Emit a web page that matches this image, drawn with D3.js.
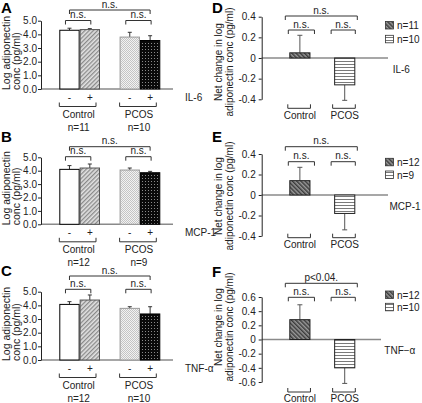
<!DOCTYPE html>
<html><head><meta charset="utf-8">
<script src="https://cdn.jsdelivr.net/npm/d3@7"></script>
<style>
body{margin:0;background:#fff}
svg{display:block;font-family:Arial,"Liberation Sans",Helvetica,sans-serif}
</style>
</head><body>
<svg id="chart" width="422" height="403"></svg>
<script>
// ---------------- DATA ----------------
const groups = ["Control", "PCOS"];
const treatments = ["-", "+"];
const cytokines = ["IL-6", "MCP-1", "TNF-α"];
const ticksABC = [0, 1, 2, 3, 4, 5];
// order: Control -, Control +, PCOS -, PCOS +
const meansA = [4.30, 4.35, 3.80, 3.55];
const errsA  = [0.15, 0.07, 0.35, 0.35];
const meansB = [4.10, 4.20, 4.05, 3.85];
const errsB  = [0.28, 0.30, 0.15, 0.10];
const meansC = [4.07, 4.39, 3.78, 3.37];
const errsC  = [0.20, 0.37, 0.12, 0.53];
const nA = ["n=11", "n=10"];
const nB = ["n=12", "n=9"];
const nC = ["n=12", "n=10"];
// net change: Control, PCOS
const netD = [0.05, -0.26];
const netErrD = [0.17, 0.15];
const netE = [0.14, -0.18];
const netErrE = [0.13, 0.16];
const netF = [0.28, -0.40];
const netErrF = [0.21, 0.22];
const legendD = ["n=11", "n=10"];
const legendE = ["n=12", "n=9"];
const legendF = ["n=12", "n=10"];
const ticksDE = [-0.4, -0.2, 0, 0.2, 0.4];
const ticksF = [-0.6, -0.4, -0.2, 0, 0.2, 0.4, 0.6];
const sigNS = ["n.s.", "n.s.", "n.s."];   // top, inner Control, inner PCOS
const sigF = ["p<0.04.", "n.s.", "n.s."];
const yLabelABC = ["Log adiponectin", "conc (pg/ml)"];
const yLabelDEF = ["Net change in log", "adiponectin conc (pg/ml)"];

// ---------------- SETUP ----------------
const svg = d3.select("#chart");
const defs = svg.append("defs");

function pat(id, w, h, bg, draw, transform) {
  const p = defs.append("pattern").attr("id", id).attr("patternUnits", "userSpaceOnUse")
    .attr("width", w).attr("height", h);
  if (transform) p.attr("patternTransform", transform);
  p.append("rect").attr("width", w).attr("height", h).attr("fill", bg);
  draw(p);
}
pat("hatch", 3, 3, "#e2e2e2", p => p.append("rect").attr("x", 0).attr("y", 0).attr("width", 1.3).attr("height", 3).attr("fill", "#8a8a8a"), "rotate(45)");
pat("check", 2, 2, "#f2f2f2", p => {
  p.append("rect").attr("width", 1).attr("height", 1).attr("fill", "#c4c4c4");
  p.append("rect").attr("x", 1).attr("y", 1).attr("width", 1).attr("height", 1).attr("fill", "#c4c4c4");
});
pat("dots", 3, 3, "#0a0a0a", p => p.append("rect").attr("x", 1).attr("y", 1).attr("width", 1).attr("height", 1).attr("fill", "#8a8a8a"));
pat("cross", 3, 3, "#9a9a9a", p => p.append("rect").attr("width", 1.5).attr("height", 3).attr("fill", "#3c3c3c"), "rotate(-45)");
pat("stripes", 4, 3, "#ffffff", p => p.append("rect").attr("y", 1).attr("width", 4).attr("height", 1).attr("fill", "#7a7a7a"));

const fillsABC = ["#ffffff", "url(#hatch)", "url(#check)", "url(#dots)"];
const strokesABC = ["#000", "#555", "#9a9a9a", "#000"];
const fillsDEF = ["url(#cross)", "url(#stripes)"];

function topBracket(g, x1, x2, y, drop, label) {
  g.append("path").attr("d", `M${x1},${y + drop}V${y}H${x2}V${y + drop}`)
    .attr("fill", "none").attr("stroke", "#333").attr("stroke-width", 1);
  g.append("text").attr("x", (x1 + x2) / 2).attr("y", y - 2.5).attr("text-anchor", "middle")
    .attr("font-size", 10).attr("fill", "#222").text(label);
}
function bottomBracket(g, x1, x2, y, rise) {
  g.append("path").attr("d", `M${x1},${y - rise}V${y}H${x2}V${y - rise}`)
    .attr("fill", "none").attr("stroke", "#333").attr("stroke-width", 1);
}
function letter(x, y, t) {
  svg.append("text").attr("x", x).attr("y", y).attr("font-size", 15).attr("font-weight", "bold").text(t);
}

// ---------------- PANELS A-C ----------------
const layoutABC = [
  { L: "A", ly: 12.5, y0: 89, y5: 20.7, topBr: 10, innerBr: 20.5, means: meansA, errs: errsA, n: nA, cyto: cytokines[0] },
  { L: "B", ly: 141.5, y0: 224.3, y5: 157.3, topBr: 146.7, innerBr: 156.7, means: meansB, errs: errsB, n: nB, cyto: cytokines[1] },
  { L: "C", ly: 276, y0: 360, y5: 291.7, topBr: 276, innerBr: 289.3, means: meansC, errs: errsC, n: nC, cyto: cytokines[2] }
];
const axisX = 41;
layoutABC.forEach(cfg => {
  const g = svg.append("g");
  const y = d3.scaleLinear().domain([0, 5]).range([cfg.y0, cfg.y5]);
  const x0 = d3.scaleBand().domain(groups).range([59.3, 160.3]).paddingInner(0.325);
  const x1 = d3.scaleBand().domain(treatments).range([0, x0.bandwidth()]);
  const bars = cfg.means.map((v, i) => ({ g: groups[Math.floor(i / 2)], t: treatments[i % 2], v, e: cfg.errs[i], i }));
  const cx = d => x0(d.g) + x1(d.t) + x1.bandwidth() / 2;

  g.append("line").attr("x1", axisX).attr("x2", 173).attr("y1", y(0)).attr("y2", y(0))
    .attr("stroke", "#8a8a8a").attr("stroke-width", 1.5);
  bars.forEach(d => {
    g.append("line").attr("x1", cx(d)).attr("x2", cx(d)).attr("y1", y(d.v)).attr("y2", y(d.v + d.e))
      .attr("stroke", "#333").attr("stroke-width", 1);
    g.append("line").attr("x1", cx(d) - 2).attr("x2", cx(d) + 2).attr("y1", y(d.v + d.e)).attr("y2", y(d.v + d.e))
      .attr("stroke", "#333").attr("stroke-width", 1);
  });
  g.selectAll("rect.bar").data(bars).enter().append("rect").attr("class", "bar")
    .attr("x", d => x0(d.g) + x1(d.t) + 0.5).attr("width", x1.bandwidth() - 1)
    .attr("y", d => y(d.v)).attr("height", d => y(0) - y(d.v))
    .attr("fill", d => fillsABC[d.i]).attr("stroke", d => strokesABC[d.i]).attr("stroke-width", 1);
  const ax = g.append("g").attr("transform", `translate(${axisX},0)`)
    .call(d3.axisLeft(y).tickValues(ticksABC).tickFormat(d3.format(".1f")).tickSize(3).tickSizeOuter(0).tickPadding(1));
  ax.selectAll("text").attr("font-size", 10).attr("font-family", null).attr("fill", "#222");
  ax.select(".domain").attr("stroke", "#222");
  ax.selectAll(".tick line").attr("stroke", "#222");
  bars.forEach(d => {
    g.append("text").attr("x", cx(d)).attr("y", y(0) + 8).attr("dy", "0.35em").attr("text-anchor", "middle")
      .attr("font-size", 10).attr("fill", "#222").text(d.t);
  });
  g.append("text").attr("x", 185).attr("y", y(0) + 8).attr("dy", "0.35em").attr("font-size", 10).attr("fill", "#222").text(cfg.cyto);
  groups.forEach((gr, k) => {
    const gx = x0(gr);
    bottomBracket(g, gx, gx + x0.bandwidth() - 4, y(0) + 17.5, 4);
    g.append("text").attr("x", gx + x0.bandwidth() / 2 - 1).attr("y", y(0) + 29).attr("text-anchor", "middle")
      .attr("font-size", 10).attr("fill", "#222").text(gr);
    g.append("text").attr("x", gx + x0.bandwidth() / 2 - 1).attr("y", y(0) + 42).attr("text-anchor", "middle")
      .attr("font-size", 10).attr("fill", "#222").text(cfg.n[k]);
  });
  topBracket(g, cx(bars[0]), cx(bars[3]), cfg.topBr, 4, sigNS[0]);
  topBracket(g, cx(bars[0]) - 4, cx(bars[1]) + 1, cfg.innerBr, 4, sigNS[1]);
  topBracket(g, cx(bars[2]) - 4, cx(bars[3]) + 1, cfg.innerBr, 4, sigNS[2]);
  const yl = g.append("text").attr("transform", `translate(0,${cfg.y0 + 1}) rotate(-90)`)
    .attr("font-size", 10.5).attr("fill", "#222");
  yl.append("tspan").attr("x", 0).attr("y", 9.5).text(yLabelABC[0]);
  yl.append("tspan").attr("x", 0).attr("y", 19.5).text(yLabelABC[1]);
  letter(1, cfg.ly, cfg.L);
});

// ---------------- PANELS D-F ----------------
const layoutDEF = [
  { L: "D", ly: 12.5, dom: [-0.4, 0.4], yBot: 99.3, yTop: 16.7, ticks: ticksDE, topBr: 16, innerBr: 30, botBr: 108.3, labY: 119.3,
    zeroEnd: 388, cytoX: 392.7, legY: [21.5, 35.3], labCy: 62, vals: netD, errs: netErrD, leg: legendD, cyto: cytokines[0], sig: sigNS },
  { L: "E", ly: 142.3, dom: [-0.4, 0.4], yBot: 236, yTop: 154, ticks: ticksDE, topBr: 146.7, innerBr: 161.7, botBr: 237.7, labY: 248.3,
    zeroEnd: 388, cytoX: 389.5, legY: [158.3, 171], labCy: 196, vals: netE, errs: netErrE, leg: legendE, cyto: cytokines[1], sig: sigNS },
  { L: "F", ly: 277, dom: [-0.6, 0.6], yBot: 382, yTop: 297, ticks: ticksF, topBr: 283.3, innerBr: 297.3, botBr: 392, labY: 402,
    zeroEnd: 381, cytoX: 384.3, legY: [291, 303.3], labCy: 327, vals: netF, errs: netErrF, leg: legendF, cyto: "TNF−α", sig: sigF }
];
const axisX2 = 261.7;
layoutDEF.forEach(cfg => {
  const g = svg.append("g");
  const y = d3.scaleLinear().domain(cfg.dom).range([cfg.yBot, cfg.yTop]);
  const x = d3.scaleBand().domain(groups).range([289.3, 355.3]).paddingInner(0.528);
  const bw = x.bandwidth();
  const bars = cfg.vals.map((v, i) => ({ g: groups[i], v, e: cfg.errs[i], i }));

  g.append("line").attr("x1", axisX2).attr("x2", cfg.zeroEnd).attr("y1", y(0)).attr("y2", y(0))
    .attr("stroke", "#8a8a8a").attr("stroke-width", 1.5);
  bars.forEach(d => {
    const c = x(d.g) + bw / 2;
    const end = d.v + Math.sign(d.v) * d.e;
    g.append("line").attr("x1", c).attr("x2", c).attr("y1", y(d.v)).attr("y2", y(end)).attr("stroke", "#555").attr("stroke-width", 1);
    g.append("line").attr("x1", c - 2.5).attr("x2", c + 2.5).attr("y1", y(end)).attr("y2", y(end)).attr("stroke", "#555").attr("stroke-width", 1);
  });
  g.selectAll("rect.bar").data(bars).enter().append("rect").attr("class", "bar")
    .attr("x", d => x(d.g) + 0.5).attr("width", bw - 1)
    .attr("y", d => Math.min(y(d.v), y(0))).attr("height", d => Math.abs(y(d.v) - y(0)))
    .attr("fill", d => fillsDEF[d.i]).attr("stroke", "#222").attr("stroke-width", 1);
  const ax = g.append("g").attr("transform", `translate(${axisX2},0)`)
    .call(d3.axisLeft(y).tickValues(cfg.ticks).tickFormat(d => d === 0 ? "0" : d.toFixed(1)).tickSize(3).tickSizeOuter(0).tickPadding(3));
  ax.selectAll("text").attr("font-size", 10).attr("font-family", null).attr("fill", "#222");
  ax.select(".domain").attr("stroke", "#222");
  ax.selectAll(".tick line").attr("stroke", "#222");
  bars.forEach(d => {
    bottomBracket(g, x(d.g) - 1.5, x(d.g) + bw, cfg.botBr, 4);
    g.append("text").attr("x", x(d.g) + bw / 2).attr("y", cfg.labY).attr("text-anchor", "middle")
      .attr("font-size", 10).attr("fill", "#222").text(d.g);
  });
  topBracket(g, x(groups[0]) - 4, x(groups[1]) + bw + 2, cfg.topBr, 4, cfg.sig[0]);
  topBracket(g, x(groups[0]) - 1, x(groups[0]) + bw + 4, cfg.innerBr, 4, cfg.sig[1]);
  topBracket(g, x(groups[1]) - 3, x(groups[1]) + bw, cfg.innerBr, 4, cfg.sig[2]);
  cfg.leg.forEach((t, k) => {
    g.append("rect").attr("x", 385.5).attr("y", cfg.legY[k]).attr("width", 8).attr("height", 7.5)
      .attr("fill", fillsDEF[k]).attr("stroke", "#333").attr("stroke-width", 0.8);
    g.append("text").attr("x", 397).attr("y", cfg.legY[k] + 4).attr("dy", "0.35em").attr("font-size", 10).attr("fill", "#222").text(t);
  });
  g.append("text").attr("x", cfg.cytoX).attr("y", y(0) + 11).attr("dy", "0.35em").attr("font-size", 10).attr("fill", "#222").text(cfg.cyto);
  const yl = g.append("text").attr("transform", `translate(0,${cfg.labCy}) rotate(-90)`)
    .attr("font-size", 10).attr("fill", "#222").attr("text-anchor", "middle");
  yl.append("tspan").attr("x", 0).attr("y", 222).text(yLabelDEF[0]);
  yl.append("tspan").attr("x", 0).attr("y", 233).text(yLabelDEF[1]);
  letter(212, cfg.ly, cfg.L);
});
</script>
</body></html>
